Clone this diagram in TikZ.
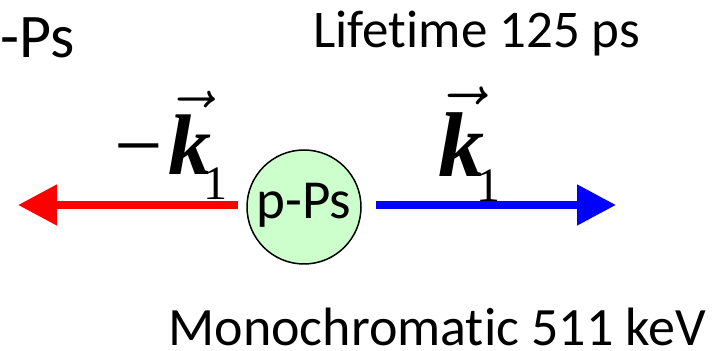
\RequirePackage{fix-cm}
\documentclass[tikz,border=0pt]{standalone}
\usepackage{fontspec}
\setmainfont{Carlito}[Ligatures=CommonOff]
\newfontfamily\kfont{Liberation Serif}
\usetikzlibrary{arrows.meta,positioning}

% wave vector k_1 with arrow on top
\newcommand{\kone}{$\vec{\hbox{\kfont\bfseries\itshape k}}$\kern-4pt\raisebox{-12.5pt}{\kfont\fontsize{24}{24}\selectfont 1}}

\begin{document}
\begin{tikzpicture}[
  x=0.5pt, y=-0.5pt,
  every node/.style={inner sep=0pt, font=\fontsize{26.5}{30}\selectfont},
  caption/.style={anchor=base west},
  particle/.style={circle, draw, line width=0.75pt, fill=green!20, minimum size=57pt},
  kvec/.style={anchor=base west, font=\fontsize{43}{43}\selectfont},
  photonL/.style={draw=red, line width=4pt, -{Triangle[length=19.5pt,width=19.5pt]}},
  photonR/.style={draw=blue, line width=4pt, -{Triangle[length=19.5pt,width=19.5pt]}}
]
  \useasboundingbox (0,0) rectangle (719,351);

  \node[caption, font=\fontsize{31}{34}\selectfont] (pstitle) at (0,58)  {-Ps};
  \node[caption] (life) at (313,48) {Lifetime 125 ps};
  \node[caption, font=\fontsize{27}{30}\selectfont] (mono) at (168,346) {Monochromatic 511 keV};

  \node[particle] (pps) at (304,207) {\raisebox{6pt}{\fontsize{27.5}{30}\selectfont p-Ps}};

  \coordinate (lefttip)  at (18,205);
  \coordinate (righttip) at (616,205);
  \draw[photonL, shorten <=4pt] (pps.west |- lefttip) -- (lefttip);
  \draw[photonR, shorten <=7pt] (pps.east |- righttip) -- (righttip);

  \node[kvec] (kminus) at (114,175) {{\kfont −}\kern3pt\kone};
  \node[kvec, font=\fontsize{46}{46}\selectfont] (kplus) at (438,177) {\kone};
\end{tikzpicture}
\end{document}
